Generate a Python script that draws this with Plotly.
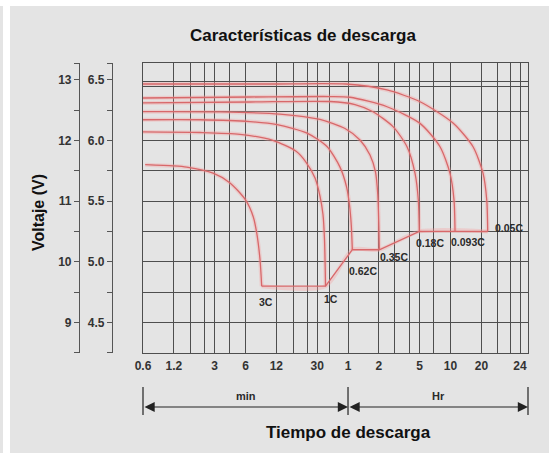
import math
import plotly.graph_objects as go

# ---- discharge data: time in minutes, voltage of a 6 V block ----
rates = ["3C", "1C", "0.62C", "0.35C", "0.18C", "0.093C", "0.05C"]

t_3c = [0.63, 1.18, 1.6, 2.9, 4.24, 6.0, 7.15, 7.71, 8.31, 8.63]
v_3c = [5.80, 5.79, 5.78, 5.73, 5.65, 5.51, 5.37, 5.24, 5.02, 4.80]

t_1c = [0.6, 2.16, 5.3, 11.1, 18.7, 23.4, 28.6, 32.0, 34.2, 35.4, 36.2]
v_1c = [6.07, 6.065, 6.05, 6.00, 5.91, 5.82, 5.69, 5.54, 5.39, 5.18, 4.80]

t_062c = [0.6, 2.16, 6.64, 12.2, 23.9, 37.4, 50.1, 58.0, 62.0, 64.6, 66.1]
v_062c = [6.17, 6.17, 6.155, 6.13, 6.06, 5.95, 5.78, 5.62, 5.47, 5.30, 5.10]

t_035c = [0.6, 3.38, 13.0, 32.0, 56.1, 78.5, 98.3, 111.2, 117.2, 119.9, 121.2]
v_035c = [6.236, 6.234, 6.217, 6.172, 6.098, 6.003, 5.88, 5.74, 5.55, 5.30, 5.10]

t_018c = [0.6, 6.64, 40.0, 70.2, 105.2, 164.9, 225.8, 270.4, 291.1, 297.7]
v_018c = [6.308, 6.316, 6.32, 6.295, 6.236, 6.113, 5.948, 5.729, 5.509, 5.25]

t_0093c = [0.6, 6.64, 40.0, 62.8, 144.1, 302.5, 474, 593, 649, 664]
v_0093c = [6.349, 6.357, 6.361, 6.355, 6.277, 6.14, 5.948, 5.729, 5.509, 5.25]

t_005c = [0.6, 10.0, 57.4, 144.1, 302.5, 634.7, 995, 1245, 1354, 1384]
v_005c = [6.464, 6.464, 6.464, 6.415, 6.318, 6.143, 5.948, 5.731, 5.509, 5.25]

# end-of-discharge line joining the curve ends
t_cutoff = [8.63, 36.2, 66.1, 121.2, 297.7, 1384]
v_cutoff = [4.80, 4.80, 5.10, 5.10, 5.25, 5.25]

# where each rate label sits (time in minutes, volts)
label_t = [9.44, 40.6, 84.5, 168.7, 378.4, 895, 2249]
label_v = [4.672, 4.694, 4.925, 5.043, 5.153, 5.166, 5.281]

# x axis: grid lines (minutes) and the labels printed under them
x_grid = [0.6, 1.2, 1.75, 2.4, 3, 4.2, 6, 12, 17.5, 24, 30, 40, 60, 120,
          172, 237, 300, 407, 600, 1200, 1725, 2306, 2860]
x_grid_text = ["0.6", "1.2", "", "", "3", "", "6", "12", "", "", "30", "",
               "1", "2", "", "", "5", "", "10", "20", "", "", "24"]
x_max = 3420

# y axis grid lines (6 V scale)
y_grid = [4.5, 4.75, 5.0, 5.25, 5.5, 5.75, 6.0, 6.236, 6.442, 6.483]
y_min = 4.25
y_max = 6.637
v6_ticks = [4.2505, 4.5, 4.75, 5.0, 5.25, 5.5, 5.75, 6.0, 6.25, 6.5, 6.636]
v6_text = ["", "4.5", "", "5.0", "", "5.5", "", "6.0", "", "6.5", ""]
v12_ticks = [2 * v for v in v6_ticks]
v12_text = ["", "9", "", "10", "", "11", "", "12", "", "13", ""]

curves = [(t_3c, v_3c), (t_1c, v_1c), (t_062c, v_062c), (t_035c, v_035c),
          (t_018c, v_018c), (t_0093c, v_0093c), (t_005c, v_005c)]

W, H = 549, 453
M_L, M_R, M_T, M_B = 0, 21, 63, 100
PAPER_W = W - M_L - M_R
PLOT_H = H - M_T - M_B
X0 = 143 / PAPER_W
lo, hi = math.log10(x_grid[0]), math.log10(x_max)


def xpaper(t):
    return X0 + (1 - X0) * (math.log10(t) - lo) / (hi - lo)


def ypix(p):
    # vertical figure pixel -> paper fraction
    return (H - M_B - p) / PLOT_H


BG = "#e4e4e4"
GRID = "#4e4e4e"
RED = "#d8686a"
HALO = "rgba(245,160,160,0.35)"
FONT = "Liberation Sans, Arial, sans-serif"
TXT = "#2a2a2a"

fig = go.Figure()

# soft halo under every line (6 V scale, main axis)
for t, v in curves + [(t_cutoff, v_cutoff)]:
    fig.add_trace(go.Scatter(x=t, y=v, mode="lines", hoverinfo="skip",
                             line=dict(color=HALO, width=4, shape="spline", smoothing=0.7)))
# discharge curves on the 6 V scale
for t, v in curves:
    fig.add_trace(go.Scatter(x=t, y=v, mode="lines", hoverinfo="skip", yaxis="y2",
                             line=dict(color=RED, width=1.3, shape="spline", smoothing=0.7)))
# cut-off line expressed on the 12 V scale
fig.add_trace(go.Scatter(x=t_cutoff, y=[2 * v for v in v_cutoff], mode="lines",
                         hoverinfo="skip", yaxis="y3", line=dict(color=RED, width=1.3)))


def text_note(x, y, text, size, color=TXT, **kw):
    return dict(x=x, y=y, xref="paper", yref="paper", text=text, showarrow=False,
                xanchor="center", yanchor="middle",
                font=dict(family=FONT, size=size, color=color, weight="bold"), **kw)


annotations = []
for name, t, v in zip(rates, label_t, label_v):
    annotations.append(dict(x=math.log10(t), y=v, xref="x", yref="y", text=name,
                            showarrow=False, xanchor="center", yanchor="middle",
                            font=dict(family=FONT, size=10.5, color=TXT, weight="bold")))

annotations += [
    text_note(303 / PAPER_W, ypix(36), "Características de descarga", 17, "#111"),
    text_note(39 / PAPER_W, ypix(213), "Voltaje (V)", 16, "#111", textangle=-90),
    text_note(348 / PAPER_W, ypix(432), "Tiempo de descarga", 17, "#111"),
    text_note((xpaper(0.6) + xpaper(60)) / 2, ypix(396), "min", 11),
    text_note((xpaper(60) + xpaper(x_max)) / 2, ypix(396), "Hr", 11),
]

# double-headed span arrows for the minute and hour sections
for a, b in [(0.6, 60), (60, x_max)]:
    annotations.append(dict(x=xpaper(b), y=ypix(407), xref="paper", yref="paper", text="",
                            ax=-(xpaper(b) - xpaper(a)) * PAPER_W, ay=0, axref="pixel", ayref="pixel",
                            showarrow=True, arrowside="end+start", arrowhead=2, startarrowhead=2,
                            arrowsize=1.7, startarrowsize=1.7, arrowwidth=1.2, arrowcolor="#222"))

shapes = [
    dict(type="rect", xref="paper", yref="paper", x0=-0.01, x1=W / PAPER_W + 0.01,
         y0=ypix(6), y1=ypix(-2), fillcolor="white", line=dict(width=0), layer="below"),
    dict(type="rect", xref="paper", yref="paper", x0=3 / PAPER_W, x1=10 / PAPER_W,
         y0=ypix(H + 2), y1=ypix(-2), fillcolor="white", line=dict(width=0), layer="below"),
]
for t in (0.6, 60, x_max):
    shapes.append(dict(type="line", xref="paper", yref="paper", x0=xpaper(t), x1=xpaper(t),
                       y0=ypix(387), y1=ypix(415), line=dict(color="#222", width=1.2)))

tick_font = dict(family=FONT, size=12, color="#333", weight="bold")

fig.update_layout(
    template="none",
    width=W, height=H,
    margin=dict(l=M_L, r=M_R, t=M_T, b=M_B, pad=0, autoexpand=False),
    paper_bgcolor=BG, plot_bgcolor=BG,
    showlegend=False,
    annotations=annotations,
    shapes=shapes,
    xaxis=dict(type="log", domain=[X0, 1], range=[lo, hi], automargin=False,
               tickmode="array", tickvals=x_grid, ticktext=x_grid_text,
               showgrid=True, gridcolor=GRID, gridwidth=1.2,
               ticks="outside", ticklen=1, tickcolor="rgba(0,0,0,0)",
               tickfont=tick_font, showline=True, linecolor=GRID, linewidth=1.3,
               mirror=True, zeroline=False),
    yaxis=dict(range=[y_min, y_max], domain=[0, 1], tickmode="array", tickvals=y_grid,
               automargin=False, showticklabels=False, showgrid=True, gridcolor=GRID, gridwidth=1.2,
               ticks="", showline=True, linecolor=GRID, linewidth=1.3, mirror=True, zeroline=False),
    yaxis2=dict(range=[y_min, y_max], overlaying="y", anchor="free", position=112 / PAPER_W,
                side="left", tickmode="array", tickvals=v6_ticks, ticktext=v6_text, automargin=False,
                ticks="outside", ticklen=5, tickcolor="#555", tickwidth=1.1,
                showline=True, linecolor="#555", linewidth=1.1, showgrid=False, zeroline=False,
                tickfont=tick_font),
    yaxis3=dict(range=[2 * y_min, 2 * y_max], overlaying="y", anchor="free", position=79 / PAPER_W,
                side="left", tickmode="array", tickvals=v12_ticks, ticktext=v12_text, automargin=False,
                ticks="outside", ticklen=5, tickcolor="#555", tickwidth=1.1,
                showline=True, linecolor="#555", linewidth=1.1, showgrid=False, zeroline=False,
                tickfont=tick_font),
)

fig.write_html("out.html")
